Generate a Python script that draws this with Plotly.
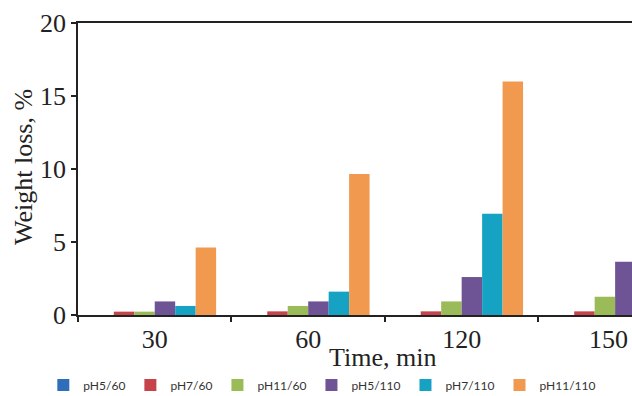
import plotly.graph_objects as go

categories = ["30", "60", "120", "150"]
tick_labels = ["30", "60", "120", "150\u2007"]
series_names = ["pH5/60", "pH7/60", "pH11/60", "pH5/110", "pH7/110", "pH11/110"]
ph5_60 = [0, 0, 0, 0]
ph7_60 = [0.23, 0.25, 0.25, 0.25]
ph11_60 = [0.23, 0.62, 0.93, 1.25]
ph5_110 = [0.93, 0.93, 2.6, 3.65]
ph7_110 = [0.62, 1.6, 6.94, None]
ph11_110 = [4.63, 9.66, 16.0, None]
values = [ph5_60, ph7_60, ph11_60, ph5_110, ph7_110, ph11_110]
colors = ["#2F6EBA", "#C6434B", "#9BBB59", "#6E5494", "#16A3C3", "#F0994F"]
y_ticks = [0, 5, 10, 15, 20]

fig = go.Figure()
for name, vals, col in zip(series_names, values, colors):
    fig.add_trace(go.Bar(x=categories, y=vals, name=name, marker=dict(color=col, line=dict(width=0))))

serif = "Liberation Serif, Times New Roman, serif"
fig.update_layout(
    width=632, height=396,
    margin=dict(l=78, r=0, t=23, b=81, autoexpand=False),
    paper_bgcolor="white", plot_bgcolor="white",
    barmode="group", bargap=0.2, bargroupgap=0,
    font=dict(family=serif, color="#222", size=26),
    showlegend=True,
    legend=dict(orientation="h", xref="container", x=0.51, xanchor="center",
                yref="container", y=0.028, yanchor="middle",
                font=dict(family="Lato, Open Sans, sans-serif", size=12, color="#333"),
                itemwidth=30, traceorder="normal"),
    annotations=[
        dict(text="Time, min", xref="paper", yref="paper", x=0.55, y=-0.147,
             xanchor="center", yanchor="middle", showarrow=False,
             font=dict(family=serif, size=26, color="#222")),
        dict(text="Weight loss, %", xref="paper", yref="paper", x=-0.0975, y=0.507,
             xanchor="center", yanchor="middle", showarrow=False, textangle=-90,
             font=dict(family=serif, size=26, color="#222")),
    ],
)
fig.update_xaxes(
    type="category", range=[-0.5, 3.11], automargin=False,
    tickmode="array", tickvals=categories, ticktext=tick_labels,
    showline=True, linecolor="#222", linewidth=1.5, mirror=True,
    ticks="outside", tickson="boundaries", ticklen=5, tickcolor="#222", tickwidth=1.5,
    showgrid=False, tickfont=dict(family=serif, size=26),
)
fig.update_yaxes(
    range=[0, 20], tickvals=y_ticks, automargin=False,
    showline=True, linecolor="#222", linewidth=1.5,
    ticks="outside", ticklen=5, tickcolor="#222", tickwidth=1.5,
    showgrid=False, zeroline=False, tickfont=dict(family=serif, size=26),
)
fig.write_html("out.html", config={"displayModeBar": False},
               post_script="document.body.style.margin='0';")
